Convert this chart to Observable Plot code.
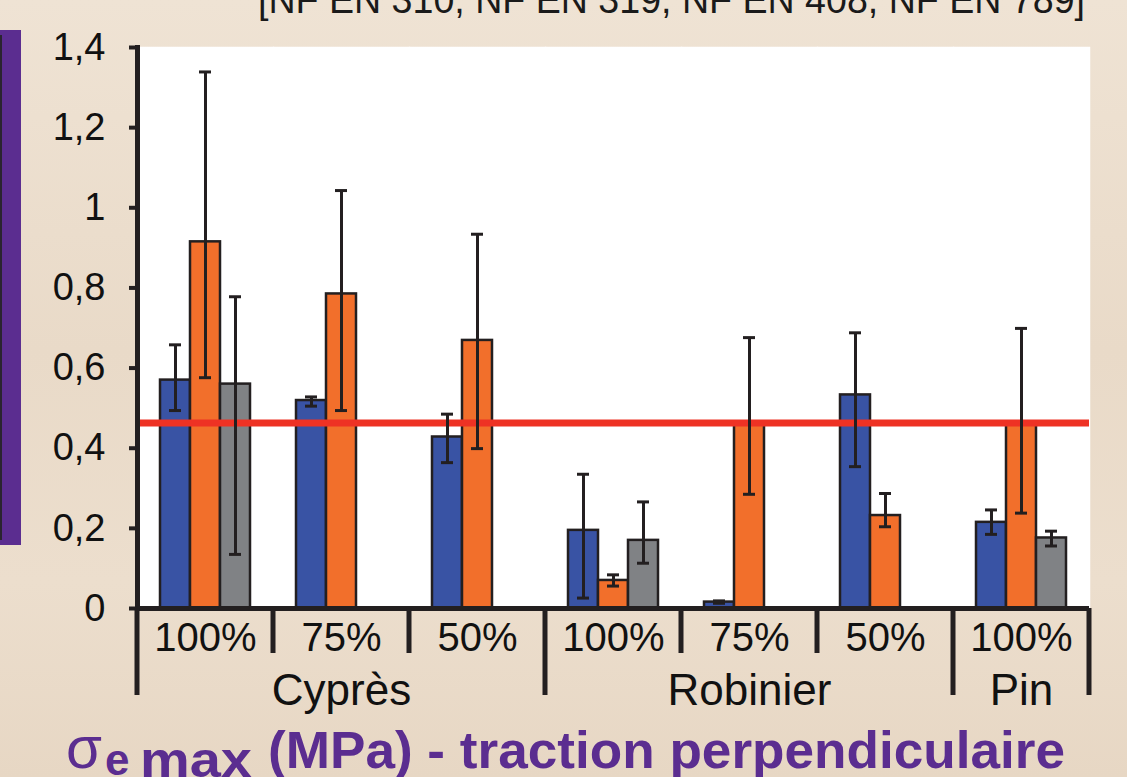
<!DOCTYPE html>
<html>
<head>
<meta charset="utf-8">
<script src="https://cdn.jsdelivr.net/npm/d3@7"></script>
<script src="https://cdn.jsdelivr.net/npm/@observablehq/plot@0.6"></script>
<style>
html, body { margin: 0; padding: 0; width: 1127px; height: 777px; overflow: hidden; }
body {
  position: relative;
  font-family: "Liberation Sans", Arial, sans-serif;
  background: linear-gradient(180deg, #efe3d4 0%, #e9dac8 45%, #ecdecd 75%, #e7d7c4 100%);
}
#chart { position: absolute; left: 0; top: 0; }
#deco { position: absolute; left: 0; top: 0; pointer-events: none; }
</style>
</head>
<body>
<div id="chart"></div>
<svg id="deco" width="1127" height="777">
  <rect x="0" y="30" width="21" height="515" fill="#5b2d90"></rect>
  <rect x="0" y="35" width="2" height="505" fill="#2a2430"></rect>
  <text x="258" y="13" font-size="38" fill="#1a1a1a" textLength="827" lengthAdjust="spacingAndGlyphs" font-family="Liberation Sans, Arial, sans-serif">[NF EN 310, NF EN 319, NF EN 408, NF EN 789]</text>
  <g fill="#5b2d90" font-family="Liberation Sans, Arial, sans-serif">
    <text x="66" y="768" font-size="60" textLength="36" lengthAdjust="spacingAndGlyphs">σ</text>
    <text x="105" y="775" font-size="44" font-weight="bold">e</text>
    <text x="140" y="777" font-size="50" font-weight="bold" textLength="112" lengthAdjust="spacingAndGlyphs">max</text>
    <text x="268" y="768" font-size="52" font-weight="bold" textLength="797" lengthAdjust="spacingAndGlyphs">(MPa) - traction perpendiculaire</text>
  </g>
</svg>
<script>
// ---- data ----
const species = ["Cyprès", "Cyprès", "Cyprès", "Robinier", "Robinier", "Robinier", "Pin"];
const ratios = ["100%", "75%", "50%", "100%", "75%", "50%", "100%"];
const series = ["série 1", "série 2", "série 3"];
const seriesColors = ["#3953a4", "#f26f2b", "#808285"];

const s1 = [0.570, 0.519, 0.428, 0.195, 0.016, 0.533, 0.215];
const s1lo = [0.494, 0.505, 0.364, 0.026, 0.013, 0.354, 0.185];
const s1hi = [0.658, 0.528, 0.485, 0.335, 0.019, 0.688, 0.246];

const s2 = [0.915, 0.785, 0.669, 0.070, 0.460, 0.232, 0.460];
const s2lo = [0.576, 0.494, 0.399, 0.056, 0.285, 0.204, 0.238];
const s2hi = [1.339, 1.043, 0.934, 0.084, 0.676, 0.287, 0.699];

const s3 = [0.560, null, null, 0.170, null, null, 0.176];
const s3lo = [0.135, null, null, 0.113, null, null, 0.156];
const s3hi = [0.778, null, null, 0.266, null, null, 0.193];

const threshold = 0.463;

const yTicks = [0, 0.2, 0.4, 0.6, 0.8, 1, 1.2, 1.4];
const yTickLabels = ["0", "0,2", "0,4", "0,6", "0,8", "1", "1,2", "1,4"];

const groupLabels = ["Cyprès", "Robinier", "Pin"];
const groupCenterIndex = [1, 4, 6];

// ---- table ----
const keys = species.map((s, i) => s + "|" + ratios[i] + "|" + i);
const vals = [s1, s2, s3], los = [s1lo, s2lo, s3lo], his = [s1hi, s2hi, s3hi];
const rows = [];
vals.forEach((arr, j) => arr.forEach((v, i) => {
  if (v != null) rows.push({key: keys[i], series: series[j], value: v, lo: los[j][i], hi: his[j][i]});
}));
const groups = groupLabels.map((g, i) => ({key: keys[groupCenterIndex[i]], label: g}));

const ink = "#231f20";
const plot = Plot.plot({
  width: 1127,
  height: 720,
  marginTop: 47,
  marginBottom: 112,
  marginLeft: 135,
  marginRight: 37,
  style: {background: "transparent", fontFamily: "Liberation Sans, Arial, sans-serif", color: "#111", overflow: "visible"},
  fx: {domain: keys, padding: 0, label: null},
  x: {domain: series, paddingInner: 0, paddingOuter: 0.72, axis: null},
  y: {domain: [0, 1.4], axis: null},
  color: {domain: series, range: seriesColors},
  marks: [
    Plot.frame({fill: "white", stroke: "white", strokeWidth: 1.5}),
    Plot.barY(rows, {fx: "key", x: "series", y: "value", fill: "series", stroke: ink, strokeWidth: 2.5}),
    Plot.ruleY([threshold], {stroke: "#ee3224", strokeWidth: 7}),
    Plot.ruleX(rows, {fx: "key", x: "series", y1: "lo", y2: "hi", stroke: ink, strokeWidth: 3}),
    Plot.tickY(rows, {fx: "key", x: "series", y: "lo", stroke: ink, strokeWidth: 3, inset: 9}),
    Plot.tickY(rows, {fx: "key", x: "series", y: "hi", stroke: ink, strokeWidth: 3, inset: 9}),
    Plot.ruleY([0], {stroke: ink, strokeWidth: 5}),
    Plot.frame({anchor: "left", stroke: ink, strokeWidth: 5, facetAnchor: "left"}),
    Plot.axisY({ticks: yTicks, tickFormat: d => yTickLabels[yTicks.indexOf(d)], tickSize: 8, tickPadding: 24, fontSize: 38, strokeWidth: 4, stroke: ink, label: null}),
    Plot.axisFx({anchor: "bottom", tickSize: 0, tickPadding: 14, fontSize: 40, tickFormat: k => k.split("|")[1], label: null}),
    Plot.text(groups, {fx: "key", text: "label", frameAnchor: "bottom", lineAnchor: "middle", dy: 82, fontSize: 44, fill: "#111"})
  ]
});
document.getElementById("chart").appendChild(plot);

// separators below the axis, positioned with the plot's fx and y scales
const fxs = plot.scale("fx");
const ysc = plot.scale("y");
const y0 = ysc.apply(0);
const edges = keys.map(k => fxs.apply(k));
edges.push(fxs.apply(keys[keys.length - 1]) + fxs.bandwidth);
const sepG = d3.select(plot).append("g").attr("stroke", ink).attr("stroke-width", 5);
edges.forEach((x, i) => {
  const isGroupEdge = i === 0 || i === edges.length - 1 || species[i] !== species[i - 1];
  sepG.append("line").attr("x1", x).attr("x2", x).attr("y1", y0).attr("y2", y0 + (isGroupEdge ? 87 : 45));
});
</script>
</body>
</html>
